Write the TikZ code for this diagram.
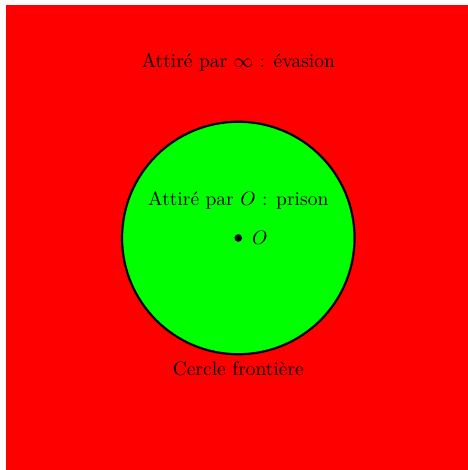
\documentclass[tikz,border=0pt]{standalone}
\usepackage{amsmath,amssymb}
\usepackage{tikz}
\usetikzlibrary{positioning}

\begin{document}
\begin{tikzpicture}[x=1cm,y=1cm,
    every node/.style={scale=0.715},
    zone/.style={fill=#1}]
  \useasboundingbox (-3.075,-2.994) rectangle (2.964,3.071);
  \fill[zone=red] (-3,-3) rectangle (3,3);
  \draw[zone=green, thick] (0,0) circle (1.5);
  \coordinate (O) at (0,0);
  \fill (O) circle (1.4pt);
  \node[anchor=west] (labO) at (0.09,0) {$O$};
  \node (prison) at (0,0.49) {Attiré par $O$ : prison};
  \node (evasion) at (0,2.26) {Attiré par $\infty$ : évasion};
  \node (bord) at (0,-1.69) {Cercle frontière};
\end{tikzpicture}
\end{document}
